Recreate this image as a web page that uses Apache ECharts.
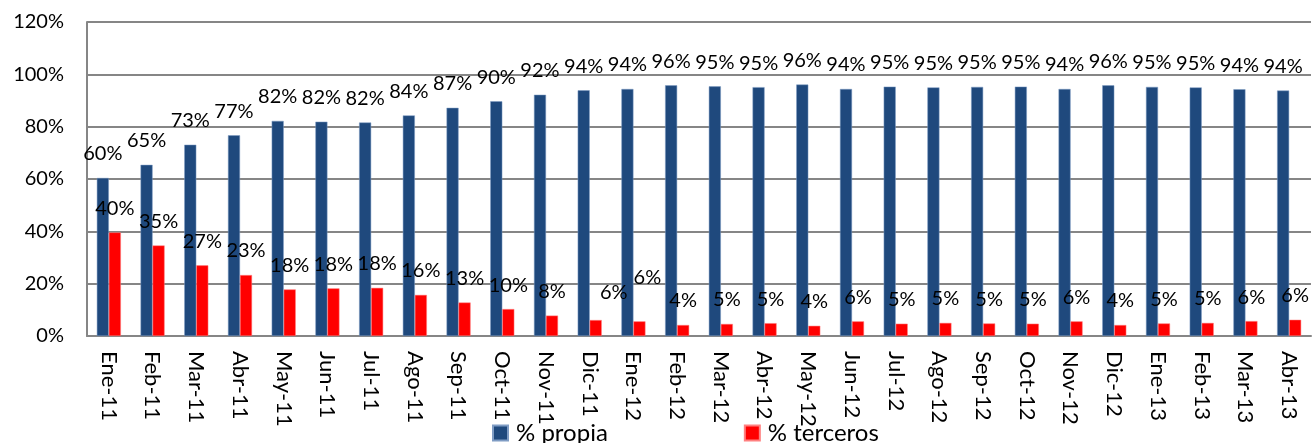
<!DOCTYPE html>
<html>
<head>
<meta charset="utf-8">
<script src="https://cdn.jsdelivr.net/npm/echarts@6/dist/echarts.min.js"></script>
<style>
html,body{margin:0;padding:0;background:#fff;}
#chart{width:1312px;height:443px;}
</style>
</head>
<body>
<div id="chart"></div>
<script>
const categories = ['Ene-11','Feb-11','Mar-11','Abr-11','May-11','Jun-11','Jul-11','Ago-11','Sep-11','Oct-11','Nov-11','Dic-11',
  'Ene-12','Feb-12','Mar-12','Abr-12','May-12','Jun-12','Jul-12','Ago-12','Sep-12','Oct-12','Nov-12','Dic-12',
  'Ene-13','Feb-13','Mar-13','Abr-13'];
const propia = [60.4,65.4,73.1,76.7,82.2,81.9,81.6,84.3,87.2,89.7,92.2,93.9,
  94.4,95.8,95.4,95.1,96.1,94.4,95.3,95.0,95.2,95.3,94.4,95.8,
  95.2,95.0,94.3,93.8];
const terceros = [39.6,34.6,27.0,23.3,17.8,18.2,18.4,15.7,12.8,10.3,7.8,6.1,
  5.6,4.2,4.6,4.9,3.9,5.6,4.7,5.0,4.8,4.7,5.6,4.2,
  4.8,5.0,5.7,6.2];
const yTicks = [0,20,40,60,80,100,120];
const seriesNames = ['% propia','% terceros'];

const FONT = 'Lato';
const labelOffsets = {11:[18,-3], 12:[8,-20]};

const pct = v => Math.round(v) + '%';
const redData = terceros.map((v,i) => labelOffsets[i] ? {value:v, label:{offset:labelOffsets[i]}} : v);

const chart = echarts.init(document.getElementById('chart'), null, {renderer:'canvas'});
chart.setOption({
  animation:false,
  textStyle:{fontFamily:FONT},
  grid:{left:87, right:1, top:22, bottom:107},
  legend:{
    data:seriesNames, left:492, top:421, itemWidth:15, itemHeight:15, itemGap:136,
    icon:'rect', padding:0,
    textStyle:{fontFamily:FONT, fontSize:24, color:'#000', padding:[0,0,0,3]}
  },
  xAxis:{
    type:'category', data:categories,
    axisLine:{lineStyle:{color:'#868686', width:2}},
    axisTick:{show:false},
    axisLabel:{rotate:-90, margin:15, fontFamily:FONT, fontSize:22, color:'#000', interval:0}
  },
  yAxis:{
    type:'value', min:yTicks[0], max:yTicks[yTicks.length-1], interval:20,
    axisLine:{show:true, lineStyle:{color:'#868686', width:2}},
    axisTick:{show:false},
    axisLabel:{formatter:'{value}%', fontFamily:FONT, fontSize:20, color:'#000', margin:23},
    splitLine:{lineStyle:{color:'#868686', width:2}}
  },
  series:[
    {name:seriesNames[0], type:'bar', data:propia, barGap:'0%', barCategoryGap:'45%',
     itemStyle:{color:'#1F497D', borderColor:'#7f9cc4', borderWidth:0.5},
     label:{show:true, position:'top', distance:14, formatter:p=>pct(p.value), fontFamily:FONT, fontSize:20, color:'#000'}},
    {name:seriesNames[1], type:'bar', data:redData, barGap:'0%', barCategoryGap:'45%',
     itemStyle:{color:'#FF0000', borderColor:'#ff8080', borderWidth:0.5},
     label:{show:true, position:'top', distance:14, formatter:p=>pct(p.value), fontFamily:FONT, fontSize:20, color:'#000'}}
  ]
});
</script>
</body>
</html>
